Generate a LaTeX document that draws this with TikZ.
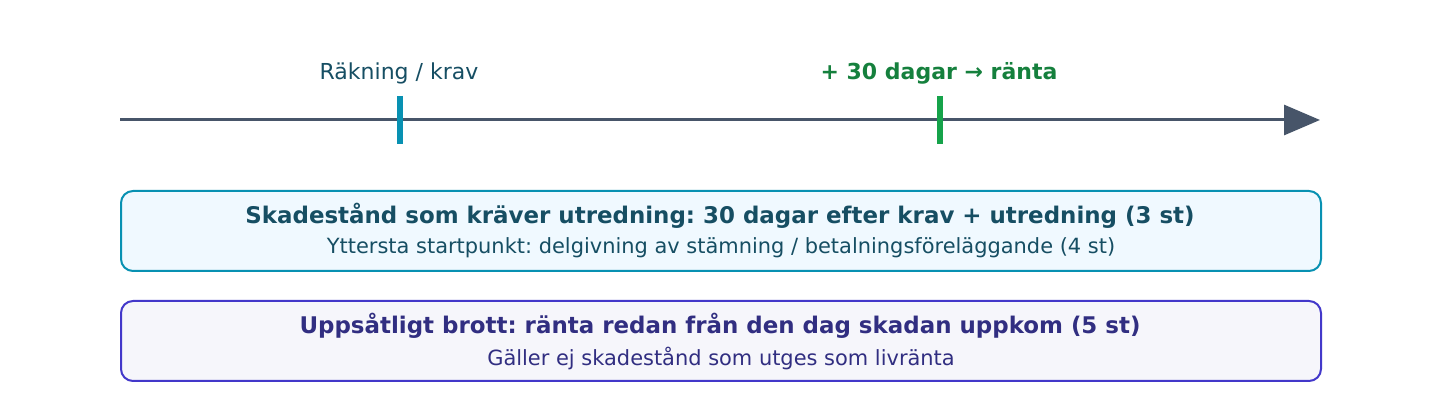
\documentclass[tikz,border=0pt]{standalone}
\usepackage{fontspec}
\setmainfont{DejaVu Sans}
\frenchspacing
\usetikzlibrary{arrows.meta}
\definecolor{axis}{HTML}{475569}
\definecolor{teal}{HTML}{0891B2}
\definecolor{tealtxt}{HTML}{164E63}
\definecolor{grn}{HTML}{16A34A}
\definecolor{grntxt}{HTML}{15803D}
\definecolor{boxAfill}{HTML}{F0F9FF}
\definecolor{boxBfill}{HTML}{F6F6FB}
\definecolor{indigo}{HTML}{4338CA}
\definecolor{indigotxt}{HTML}{312E81}
\begin{document}
\begin{tikzpicture}[x=0.75pt,y=-0.75pt,
  ticklbl/.style={font=\fontsize{16.5pt}{18pt}\selectfont, anchor=center},
  infobox/.style={rounded corners=9pt, line width=1.5pt, minimum width=900pt, minimum height=60pt, anchor=north west, inner sep=0pt},
  titletxt/.style={font=\bfseries\fontsize{17.2pt}{19pt}\selectfont},
  subtxt/.style={font=\fontsize{15.7pt}{17pt}\selectfont}]
\useasboundingbox (0,0) rectangle (1440,420);
\coordinate (axS) at (120,120);
\coordinate (axE) at (1320,120);
\draw[axis, line width=2.25pt, -{Triangle[length=27pt,width=22.5pt]}] (axS) -- (axE);
\coordinate (t1a) at (400,96);
\coordinate (t1b) at (400,144);
\coordinate (t2a) at (940,96);
\coordinate (t2b) at (940,144);
\draw[teal, line width=4.5pt] (t1a) -- (t1b);
\draw[grn, line width=4.5pt] (t2a) -- (t2b);
\node[ticklbl, text=tealtxt] (l1) at (399,73) {Räkning / krav};
\node[ticklbl, text=grntxt, font=\bfseries\fontsize{16.5pt}{18pt}\selectfont] (l2) at (939,73) {+ 30 dagar → ränta};
\node[infobox, draw=teal, fill=boxAfill] (bA) at (120,190) {};
\node[titletxt, text=tealtxt] (bAt) at (720,216) {Skadestånd som kräver utredning: 30 dagar efter krav + utredning (3 st)};
\node[subtxt, text=tealtxt] (bAs) at (721,248) {Yttersta startpunkt: delgivning av stämning / betalningsföreläggande (4 st)};
\node[infobox, draw=indigo, fill=boxBfill] (bB) at (120,300) {};
\node[titletxt, text=indigotxt] (bBt) at (720,326) {Uppsåtligt brott: ränta redan från den dag skadan uppkom (5 st)};
\node[subtxt, text=indigotxt] (bBs) at (721,358) {Gäller ej skadestånd som utges som livränta};
\end{tikzpicture}
\end{document}
